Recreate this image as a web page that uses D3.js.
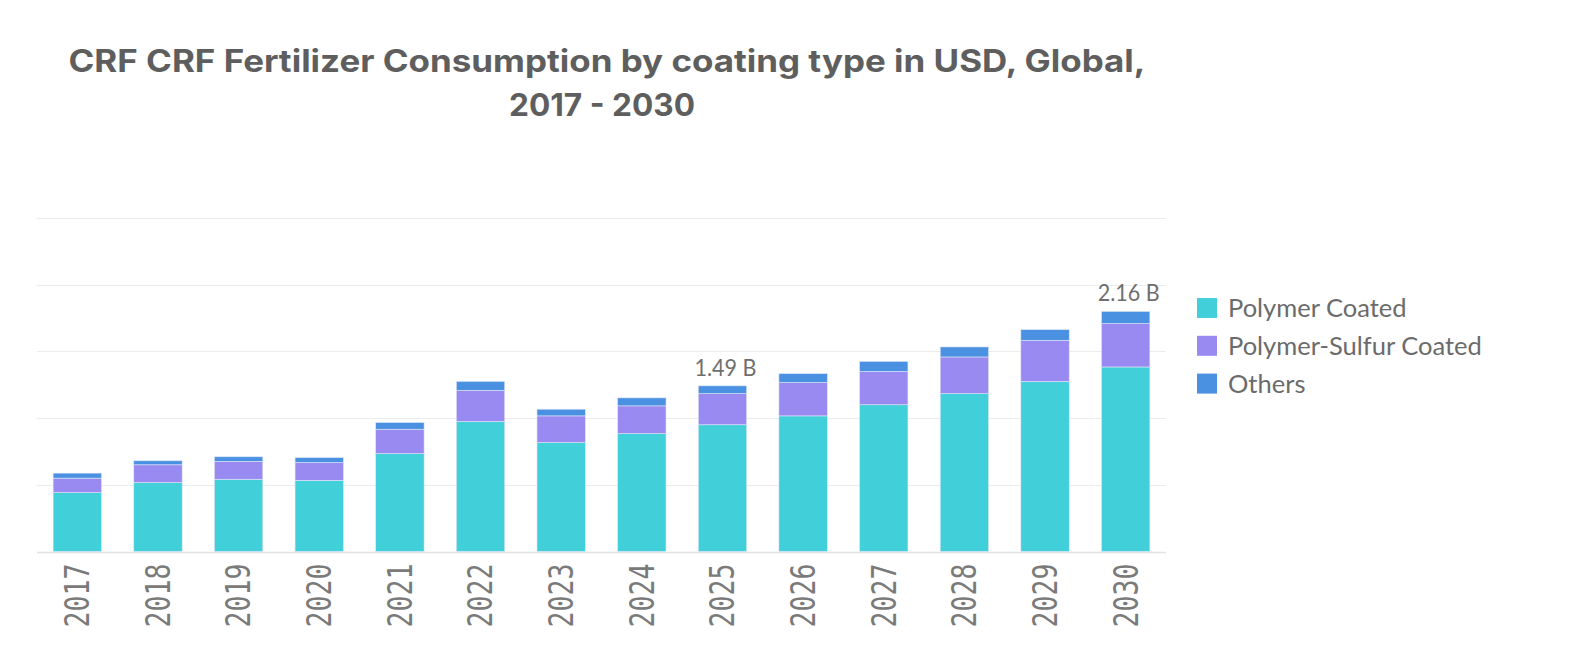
<!DOCTYPE html>
<html>
<head>
<meta charset="utf-8">
<script src="https://cdn.jsdelivr.net/npm/d3@7/dist/d3.min.js"></script>
<style>
  html, body { margin: 0; padding: 0; background: #fff; }
  #chart { width: 1579px; height: 645px; }
</style>
</head>
<body>
<div id="chart"></div>
<script>
// data (billion USD)
const years = ['2017', '2018', '2019', '2020', '2021', '2022', '2023', '2024', '2025', '2026', '2027', '2028', '2029', '2030'];
const polymerCoated = [0.53, 0.62, 0.65, 0.64, 0.88, 1.17, 0.98, 1.06, 1.14, 1.22, 1.32, 1.42, 1.53, 1.66];
const polymerSulfurCoated = [0.13, 0.16, 0.16, 0.16, 0.22, 0.28, 0.24, 0.25, 0.28, 0.30, 0.30, 0.33, 0.37, 0.39];
const others = [0.045, 0.036, 0.042, 0.045, 0.06, 0.08, 0.06, 0.072, 0.07, 0.08, 0.09, 0.09, 0.096, 0.11];
const seriesNames = ['Polymer Coated', 'Polymer-Sulfur Coated', 'Others'];
const yTicks = [0, 0.6, 1.2, 1.8, 2.4, 3.0];
const labelledYears = ['2025', '2030'];

const colors = ['#41cfd9', '#998af1', '#4a91e2'];

const width = 1579;
const height = 645;
const margin = ({ top: 218, right: 413, bottom: 93.5, left: 37 });

const rows = years.map((yr, i) => ({
	year: yr,
	[seriesNames[0]]: polymerCoated[i],
	[seriesNames[1]]: polymerSulfurCoated[i],
	[seriesNames[2]]: others[i]
}));

const stack = d3.stack().keys(seriesNames)(rows);

const x = d3.scaleBand()
	.domain(years)
	.range([margin.left, width - margin.right])
	.paddingInner(0.4)
	.paddingOuter(0.2);

const y = d3.scaleLinear()
	.domain([0, 3.0])
	.range([height - margin.bottom, margin.top]);

const svg = d3.select('#chart')
	.append('svg')
	.attr('width', width)
	.attr('height', height);

// title (two lines, stretched to the width of the original)
const titleFont = g => g
	.attr('text-anchor', 'middle')
	.attr('fill', '#5e5e5e')
	.attr('lengthAdjust', 'spacingAndGlyphs')
	.style('font-family', 'Inter, Lato, sans-serif')
	.style('font-weight', 700)
	.style('font-size', '31px');

svg.append('text')
	.call(titleFont)
	.attr('x', 607).attr('y', 72)
	.attr('textLength', 1077)
	.text('CRF CRF Fertilizer Consumption by coating type in USD, Global,');
svg.append('text')
	.call(titleFont)
	.attr('x', 602).attr('y', 116)
	.attr('textLength', 186)
	.text('2017 - 2030');

// grid
svg.append('g')
	.selectAll('line')
	.data(yTicks)
	.join('line')
	.attr('x1', margin.left)
	.attr('x2', width - margin.right)
	.attr('y1', d => Math.round(y(d)) + 0.5)
	.attr('y2', d => Math.round(y(d)) + 0.5)
	.attr('stroke', d => d === 0 ? '#e2e2e2' : '#ececec')
	.attr('stroke-width', d => d === 0 ? 1.6 : 1);

// bars
svg.append('g')
	.selectAll('g')
	.data(stack)
	.join('g')
	.attr('fill', (d, i) => colors[i])
	.selectAll('rect')
	.data(d => d)
	.join('rect')
	.attr('x', d => x(d.data.year))
	.attr('y', d => y(d[1]))
	.attr('width', x.bandwidth())
	.attr('height', d => y(d[0]) - y(d[1]))
	.attr('stroke', '#dfe6f7')
	.attr('stroke-width', 0.6);

// total labels
svg.append('g')
	.selectAll('text')
	.data(rows.filter(r => labelledYears.includes(r.year)))
	.join('text')
	.attr('x', d => x(d.year) + x.bandwidth() / 2 + 3)
	.attr('y', d => y(d3.sum(seriesNames, k => d[k])) - 10)
	.attr('text-anchor', 'middle')
	.attr('fill', '#6e6e6e')
	.attr('textLength', 62)
	.attr('lengthAdjust', 'spacingAndGlyphs')
	.style('font-family', 'Lato, sans-serif')
	.style('font-size', '24px')
	.text(d => d3.sum(seriesNames, k => d[k]).toFixed(2) + ' B');

// x axis labels
const xAxis = svg.append('g')
	.attr('transform', `translate(0,${height - margin.bottom})`)
	.call(d3.axisBottom(x).tickSize(0).tickPadding(0));
xAxis.select('.domain').remove();
xAxis.selectAll('text')
	.attr('transform', 'rotate(-90)')
	.attr('x', -12)
	.attr('y', 0)
	.attr('dy', '0.36em')
	.attr('text-anchor', 'end')
	.attr('fill', '#7a7a7a')
	.attr('textLength', 64)
	.attr('lengthAdjust', 'spacingAndGlyphs')
	.style('font-family', '"DejaVu Sans Mono", monospace')
	.style('font-size', '33px');

// legend
const legend = svg.append('g')
	.attr('transform', 'translate(1197,298)');
const item = legend.selectAll('g')
	.data(seriesNames)
	.join('g')
	.attr('transform', (d, i) => `translate(0,${i * 37.8})`);
item.append('rect')
	.attr('width', 20)
	.attr('height', 20)
	.attr('fill', (d, i) => colors[i]);
item.append('text')
	.attr('x', 31)
	.attr('y', 10)
	.attr('dy', '0.35em')
	.attr('fill', '#6b6b6b')
	.style('font-family', 'Lato, sans-serif')
	.style('font-size', '25.5px')
	.text(d => d);
</script>
</body>
</html>
